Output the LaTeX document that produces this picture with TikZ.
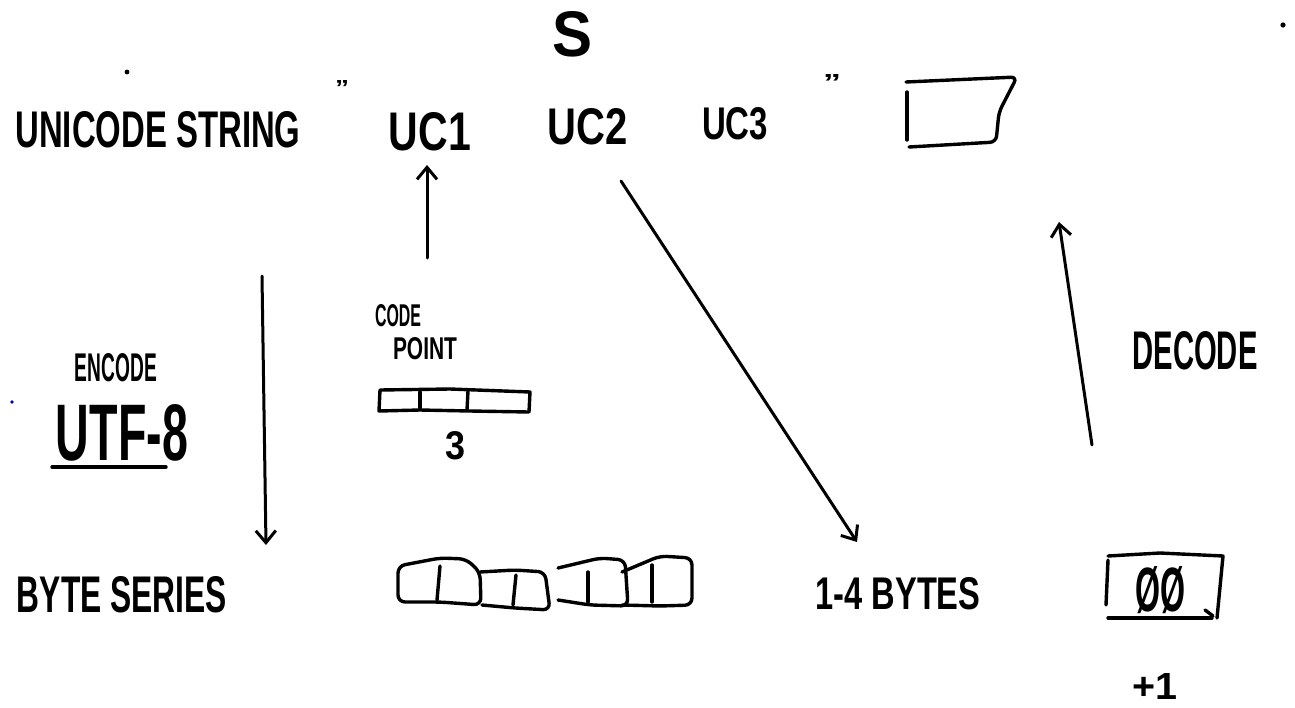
\documentclass[tikz,border=0pt]{standalone}
\usepackage{fontspec}
\setmainfont{Liberation Sans}
\usetikzlibrary{arrows.meta}
\newcommand\hw[3]{\resizebox{#1pt}{#2pt}{#3}}
\tikzset{
  txt/.style={inner sep=0pt, outer sep=0pt, anchor=center, font=\bfseries},
  ink/.style={line width=3.4pt, line cap=round, line join=round},
  conn/.style={line width=3pt, line cap=round, -{Straight Barb[length=12pt,width=20pt,line width=3pt]}},
  blob/.style={ink, rounded corners=7pt},
}
\begin{document}
\begin{tikzpicture}[x=1pt,y=-1pt]
\useasboundingbox (0,0) rectangle (1295,707);
\fill[white] (0,0) rectangle (1295,707);

% top row texts
\node[txt] (s) at (572,34) {\hw{40}{45}{S}};
\node[txt] (ustr) at (158,130) {\hw{285}{36}{UNICODE STRING}};
\node[txt] (q1) at (342,88) {\hw{14}{15}{"}};
\node[txt] (uc1) at (430,132) {\hw{82}{38}{UC1}};
\node[txt] (uc2) at (588,127) {\hw{80}{36}{UC2}};
\node[txt] (uc3) at (735,124) {\hw{66}{32}{UC3}};
\node[txt] (q2) at (832,82) {\hw{18}{16}{"}};
\draw[ink] (907,92) -- (907,140);
\draw[ink, rounded corners=6pt] (906,82) -- (1017,77) -- (999,112) -- (996,142) -- (909,147);
\coordinate (strbox) at (960,112);

% dots
\fill (127,72) circle (2.4pt);
\fill[blue!70!black] (12,402) circle (1.8pt);
\fill (1283,25) circle (2.6pt);

% middle texts
\node[txt] (enc) at (116,368) {\hw{82}{28}{ENCODE}};
\node[txt] (utf) at (122,433) {\hw{132}{56}{UTF-8}};
\draw[ink] (52,467) -- (166,467);
\node[txt] (code) at (398,316) {\hw{46}{22}{CODE}};
\node[txt] (point) at (425,349) {\hw{64}{22}{POINT}};
\draw[ink] (380,390) -- (450,389) -- (530,392) -- (529,412) -- (470,411) -- (420,410) -- (379,411) -- cycle;
\draw[ink] (420,392) -- (420,408);
\draw[ink] (468,391) -- (467,410);
\node[txt] (three) at (455,446) {\hw{20}{28}{3}};
\node[txt] (dec) at (1195,351) {\hw{125}{38}{DECODE}};

% bottom texts
\node[txt] (bser) at (122,595) {\hw{210}{36}{BYTE SERIES}};
\node[txt] (four) at (898,594) {\hw{165}{32}{1-4 BYTES}};
\node[txt] (zz) at (1160,590) {\hw{50}{45}{ØØ}};
\node[txt] (plus) at (1155,686) {\hw{45}{26}{+1}};
\draw[ink] (1108,560) -- (1106,605);
\draw[ink] (1108,556) -- (1160,553) -- (1223,556) -- (1217,618);
\draw[ink] (1108,618) -- (1212,618);
\draw[ink] (1205,610) -- (1213,616);

% byte boxes
\draw[blob] (398,602) -- (398,566) -- (440,558) -- (466,559) -- (480,572) -- (481,605) -- (440,602) -- cycle;
\draw[ink] (440,566) -- (437,600);
\draw[blob] (480,572) -- (515,570) -- (545,572) -- (550,610) -- (515,608) -- (482,605);
\draw[ink] (516,575) -- (513,605);
\draw[blob] (558,568) -- (600,558) -- (625,560) -- (628,606) -- (590,605) -- (558,600);
\draw[ink] (588,572) -- (588,602);
\draw[blob] (622,572) -- (660,556) -- (692,558) -- (692,605) -- (660,606) -- (622,605);
\draw[ink] (652,565) -- (652,602);
\node[txt] (bytes) at (545,583) {};

% connectors
\coordinate (a1s) at (427,258);
\coordinate (a1e) at (427,165);
\draw[conn] (a1s) -- (a1e);
\coordinate (encs) at (262,276);
\coordinate (ence) at (266,545);
\draw[conn] (encs) -- (ence);
\coordinate (uc2s) at (621,181);
\coordinate (uc2e) at (857,542);
\draw[conn] (uc2s) -- (uc2e);
\coordinate (decs) at (1092,445);
\coordinate (dece) at (1059,222);
\draw[conn] (decs) -- (dece);
\end{tikzpicture}
\end{document}
